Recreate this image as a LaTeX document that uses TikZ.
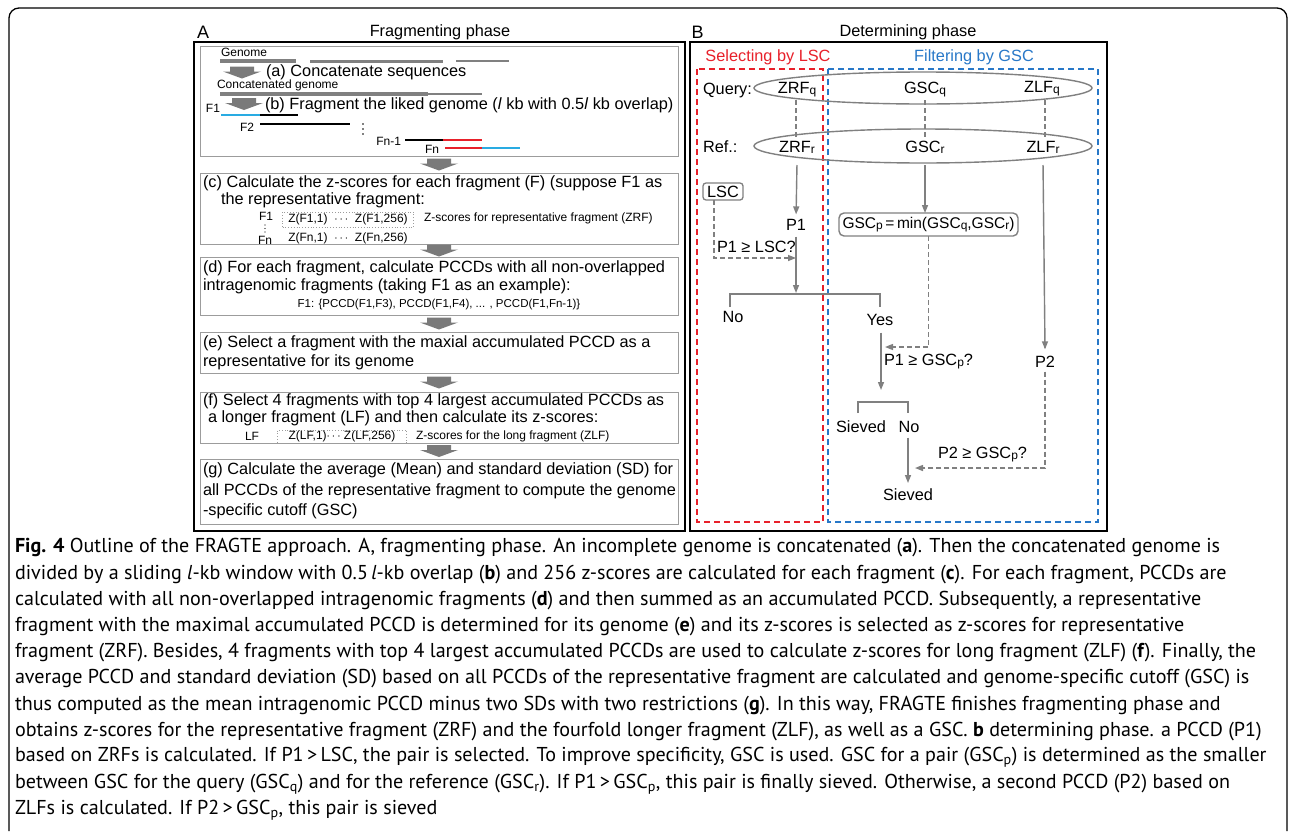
\documentclass[tikz,border=0pt]{standalone}
\usepackage{fontspec}
\setmainfont{Liberation Sans}
\newfontfamily\capfont{PT Sans}
\usetikzlibrary{arrows.meta,calc,shapes.geometric}
\definecolor{lgray}{HTML}{808080}
\definecolor{bgray}{HTML}{7A7A7A}
\definecolor{boxgray}{HTML}{9C9C9C}
\definecolor{fragblue}{HTML}{29ABE2}
\definecolor{fragred}{HTML}{E8202A}
\definecolor{lscred}{HTML}{E8202A}
\definecolor{gscblue}{HTML}{2878C8}
\newcommand\sbs[1]{\raisebox{-1pt}{\fontsize{12}{12}\selectfont #1}}
\begin{document}
\begin{tikzpicture}[x=1pt,y=-1pt,
  every node/.style={inner sep=0pt, outer sep=0pt},
  big/.style={font=\fontsize{16.3}{18}\selectfont},
  sml/.style={font=\fontsize{12}{14}\selectfont},
  tiny/.style={font=\fontsize{11.5}{13}\selectfont},
  capline/.style={font=\capfont\fontsize{20.1}{24}\selectfont, anchor=west},
  subbox/.style={draw=boxgray, line width=1pt, anchor=north west},
  panel/.style={draw=black, line width=1.8pt},
  dotbox/.style={draw=boxgray, dotted, line width=0.8pt},
  gline/.style={draw=lgray, line width=1.4pt},
  garrow/.style={draw=lgray, line width=1.4pt, -{Triangle[length=8pt,width=6pt]}},
  gdash/.style={draw=lgray, line width=1.4pt, dash pattern=on 5pt off 3pt},
  gdasharrow/.style={gdash, -{Triangle[length=8pt,width=6pt]}},
  ell/.style={draw=lgray, line width=1.4pt, ellipse},
  reddash/.style={draw=lscred, line width=1.5pt, dash pattern=on 6pt off 4pt},
  bluedash/.style={draw=gscblue, line width=1.5pt, dash pattern=on 6pt off 4pt},
  frag/.style={line width=1.8pt},
  blockarrow/.pic={\fill[bgray] (-12,-6) -- (12,-6) -- (12,-1) -- (19,-1) -- (0,6) -- (-19,-1) -- (-12,-1) -- cycle;}
]
\useasboundingbox (0,0) rectangle (1292,833);
\fill[white] (0,0) rectangle (1292,833);
% outer frame
\draw[line width=1.3pt, rounded corners=10pt] (9,831) -- (9,8) -- (1287,8) -- (1287,831);

% ================= Panel A =================
\draw[panel] (194,42) rectangle (685,531);
\node[font=\fontsize{18}{18}\selectfont] (labA) at (203,32) {A};
\node[big] (titA) at (440,32) {Fragmenting phase};

\node[subbox, minimum width=478pt, minimum height=110pt] (bab) at (200,46) {};
\node[subbox, minimum width=478pt, minimum height=71pt] (bc) at (200,173) {};
\node[subbox, minimum width=478pt, minimum height=58pt] (bd) at (200,257) {};
\node[subbox, minimum width=478pt, minimum height=41pt] (be) at (200,332) {};
\node[subbox, minimum width=478pt, minimum height=51pt] (bf) at (200,392) {};
\node[subbox, minimum width=478pt, minimum height=65pt] (bg) at (200,459) {};

\pic at ($(bab.south)!0.5!(bc.north)$) {blockarrow};
\pic at ($(bc.south)!0.5!(bd.north)$) {blockarrow};
\pic at ($(bd.south)!0.5!(be.north)$) {blockarrow};
\pic at ($(be.south)!0.5!(bf.north)$) {blockarrow};
\pic at ($(bf.south)!0.5!(bg.north)$) {blockarrow};

% (a)/(b) section
\node[sml, anchor=west] (genome) at (221,52) {Genome};
\draw[lgray, line width=4pt] (220,61) -- (296,61);
\draw[lgray, line width=3pt] (310,61) -- (443,61);
\draw[lgray, line width=2pt] (456,61) -- (509,61);
\pic at (242,72.5) {blockarrow};
\node[big, anchor=west] (ta) at (266,72) {(a) Concatenate sequences};
\node[sml, anchor=west] (cgen) at (217,85) {Concatenated genome};
\draw[lgray, line width=4pt] (220,94) -- (428,94);
\draw[lgray, line width=2.5pt] (428,94) -- (482,94);
\pic at (244,104) {blockarrow};
\node[big, anchor=west] (tb) at (265,105) {(b) Fragment the liked genome (\textit{l} kb with 0.5\textit{l} kb overlap)};

\node[sml, anchor=east] (f1) at (220,108) {F1};
\draw[frag, fragblue] (221,115) -- (260,115);
\draw[frag, black] (260,115) -- (298,115);
\node[sml] (f2) at (247,127) {F2};
\draw[frag, black] (260,124) -- (350,124);
\foreach \yy in {124,129,134} \fill (363,\yy) circle (0.9pt);
\node[sml, anchor=east] (fn1) at (401,141) {Fn-1};
\draw[frag, black] (405,140) -- (443,140);
\draw[frag, fragred] (443,140) -- (482,140);
\node[sml, anchor=east] (fn) at (439,149) {Fn};
\draw[frag, fragred] (445,148) -- (482,148);
\draw[frag, fragblue] (482,148) -- (520,148);

% (c)
\node[big, anchor=west] (tc1) at (203,183) {(c) Calculate the z-scores for each fragment (F) (suppose F1 as};
\node[big, anchor=west] (tc2) at (221,200) {the representative fragment:};
\node[sml] (cf1) at (266,216) {F1};
\foreach \yy in {225,228.5,232} \fill (265,\yy) circle (0.7pt);
\node[sml] (cfn) at (265,240) {Fn};
\node[dotbox, minimum width=131pt, minimum height=15pt] (zf1) at (348,219.5) {};
\node[sml] (zf1t) at (348,219) {Z(F1,1)\ \ $\cdots$\ \ Z(F1,256)};
\node[sml] (zfnt) at (348,238) {Z(Fn,1)\ \ $\cdots$\ \ Z(Fn,256)};
\node[sml, anchor=west] (zrfl) at (424,218) {Z-scores for representative fragment (ZRF)};

% (d)
\node[big, anchor=west] (td1) at (203,268) {(d) For each fragment, calculate PCCDs with all non-overlapped};
\node[big, anchor=west] (td2) at (203,286) {intragenomic fragments (taking F1 as an example):};
\node[tiny] (td3) at (439,305) {F1: \{PCCD(F1,F3), PCCD(F1,F4), ... , PCCD(F1,Fn-1)\}};

% (e)
\node[big, anchor=west] (te1) at (203,343) {(e) Select a fragment with the maxial accumulated PCCD as a};
\node[big, anchor=west] (te2) at (203,362) {representative for its genome};

% (f)
\node[big, anchor=west] (tf1) at (203,401) {(f) Select 4 fragments with top 4 largest accumulated PCCDs as};
\node[big, anchor=west] (tf2) at (208,418) {a longer fragment (LF) and then calculate its z-scores:};
\node[sml] (lf) at (252,436) {LF};
\node[dotbox, minimum width=129pt, minimum height=13pt] (zlf) at (342,436.5) {};
\node[sml] (zlft) at (342,436) {Z(LF,1)$\cdots$\ Z(LF,256)};
\node[sml, anchor=west] (zlfl) at (416,436) {Z-scores for the long fragment (ZLF)};

% (g)
\node[big, anchor=west] (tg1) at (203,470) {(g) Calculate the average (Mean) and standard deviation (SD) for};
\node[big, anchor=west] (tg2) at (203,491) {all PCCDs of the representative fragment to compute the genome};
\node[big, anchor=west] (tg3) at (203,511) {-specific cutoff (GSC)};

% ================= Panel B =================
\draw[panel] (690,42) rectangle (1107,531);
\node[font=\fontsize{18}{18}\selectfont] (labB) at (697.5,32) {B};
\node[big] (titB) at (908,32) {Determining phase};
\node[big, text=lscred] (sel) at (768,57) {Selecting by LSC};
\node[big, text=gscblue] (fil) at (974,57) {Filtering by GSC};
\draw[reddash] (697,69) rectangle (823,522);
\draw[bluedash] (828,69) rectangle (1098,522);

\node[ell, minimum width=338pt, minimum height=32pt] (qell) at (923,88) {};
\node[ell, minimum width=338pt, minimum height=34pt] (rell) at (923,146) {};
\node[big, anchor=west] (query) at (703,90) {Query:};
\node[big, anchor=west] (ref) at (703,147) {Ref.:};
\node[big] (zrfq) at (797,90) {ZRF\sbs{q}};
\node[big] (gscq) at (925,90) {GSC\sbs{q}};
\node[big] (zlfq) at (1042,89) {ZLF\sbs{q}};
\node[big] (zrfr) at (797,147) {ZRF\sbs{r}};
\node[big] (gscr) at (925,147) {GSC\sbs{r}};
\node[big] (zlfr) at (1043,147) {ZLF\sbs{r}};

\draw[gdash] (796,100) -- (796,137);
\draw[gdash] (925,100) -- (925,137);
\draw[gdash] (1045,100) -- (1045,137);

\node[big, draw=lgray, line width=1.3pt, rounded corners=3pt, minimum width=40pt, minimum height=17pt] (lsc) at (723,191.5) {LSC};
\node[big] (p1) at (796,225) {P1};
\node[draw=lgray, line width=1.4pt, rounded corners=5pt, minimum width=179pt, minimum height=23pt, font=\fontsize{15.5}{17}\selectfont] (gscp) at (928.5,224.5) {GSC\sbs{p}\,=\,min(GSC\sbs{q},GSC\sbs{r})};
\node[big] (p2) at (1045,362) {P2};

\coordinate (zrfbot) at (zrfr.south |- rell.south);
\draw[garrow, shorten <=2pt, shorten >=5pt] (zrfbot) -- (p1.north);
\draw[garrow, shorten <=2pt] (gscr.south |- rell.south) -- (gscr.south |- gscp.north);
\draw[garrow, shorten <=2pt, shorten >=7pt] (zlfr.south |- rell.south) -- (1045,348) -- (p2.north);

\coordinate (lscj) at (796,258);
\draw[gdasharrow] ([xshift=-9pt]lsc.south) |- (lscj);
\node[big, anchor=west] (q1) at (717,247) {P1 ≥ LSC?};

\coordinate (br1) at (796,294);
\draw[garrow, shorten <=6pt, shorten >=1pt] (p1.south) -- (br1);
\node[big] (no1) at (733,317) {No};
\node[big] (yes1) at (880,320) {Yes};
\draw[gline] (730,307) -- (730,294) -- (880,294) -- (880,307);

\coordinate (yj) at (885,347);
\draw[gdasharrow] (gscp.south) |- (yj);
\node[big, anchor=west] (q2) at (884,362) {P1 ≥ GSC\sbs{p}?};
\coordinate (br2) at (881,390);
\draw[garrow, shorten <=7pt] (yes1.south -| br2) -- (br2);
\draw[gline] (858,413) -- (858,402) -- (908,402) -- (908,413);
\node[big] (sv1) at (861,427) {Sieved};
\node[big] (no2) at (909,427) {No};
\node[big] (sv2) at (908,495) {Sieved};
\draw[garrow, shorten <=5pt, shorten >=6pt] (no2.south -| sv2) -- (sv2.north);

\coordinate (sj) at (915,468);
\draw[gdasharrow, shorten <=4pt] (p2.south) |- (sj);
\node[big, anchor=east] (q3) at (1027,455) {P2 ≥ GSC\sbs{p}?};

% ================= Caption =================
\node[capline] (c1) at (15,548) {\textbf{Fig. 4} Outline of the FRAGTE approach. A, fragmenting phase. An incomplete genome is concatenated (\textbf{a}). Then the concatenated genome is};
\node[capline] (c2) at (15,574.2) {divided by a sliding \textit{l}-kb window with 0.5\,\textit{l}-kb overlap (\textbf{b}) and 256 z-scores are calculated for each fragment (\textbf{c}). For each fragment, PCCDs are};
\node[capline] (c3) at (15,600.4) {calculated with all non-overlapped intragenomic fragments (\textbf{d}) and then summed as an accumulated PCCD. Subsequently, a representative};
\node[capline] (c4) at (15,626.6) {fragment with the maximal accumulated PCCD is determined for its genome (\textbf{e}) and its z-scores is selected as z-scores for representative};
\node[capline] (c5) at (15,652.8) {fragment (ZRF). Besides, 4 fragments with top 4 largest accumulated PCCDs are used to calculate z-scores for long fragment (ZLF) (\textbf{f}). Finally, the};
\node[capline] (c6) at (15,679) {average PCCD and standard deviation (SD) based on all PCCDs of the representative fragment are calculated and genome-specific cutoff (GSC) is};
\node[capline] (c7) at (15,705.2) {thus computed as the mean intragenomic PCCD minus two SDs with two restrictions (\textbf{g}). In this way, FRAGTE finishes fragmenting phase and};
\node[capline] (c8) at (15,731.4) {obtains z-scores for the representative fragment (ZRF) and the fourfold longer fragment (ZLF), as well as a GSC. \textbf{b} determining phase. a PCCD (P1)};
\node[capline] (c9) at (15,757.6) {based on ZRFs is calculated. If P1\,>\,LSC, the pair is selected. To improve specificity, GSC is used. GSC for a pair (GSC\textsubscript{p}) is determined as the smaller};
\node[capline] (c10) at (15,783.8) {between GSC for the query (GSC\textsubscript{q}) and for the reference (GSC\textsubscript{r}). If P1\,>\,GSC\textsubscript{p}, this pair is finally sieved. Otherwise, a second PCCD (P2) based on};
\node[capline] (c11) at (15,810) {ZLFs is calculated. If P2\,>\,GSC\textsubscript{p}, this pair is sieved};
\end{tikzpicture}
\end{document}
